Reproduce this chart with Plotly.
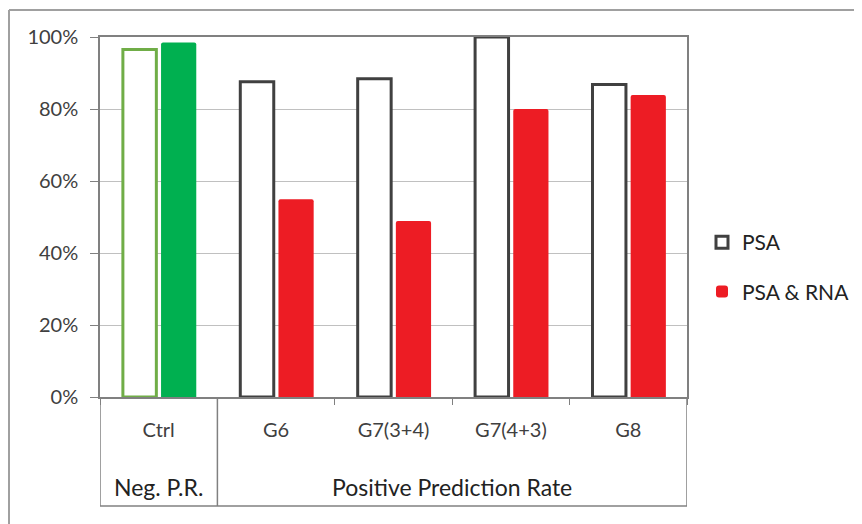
import plotly.graph_objects as go

# ---- data ----
categories = ["Ctrl", "G6", "G7(3+4)", "G7(4+3)", "G8"]
groups = ["Neg. P.R.", "Positive Prediction Rate"]
psa_values = [0.965, 0.876, 0.884, 1.00, 0.868]
psa_rna_values = [0.985, 0.549, 0.489, 0.80, 0.839]
y_ticks = [0, 0.2, 0.4, 0.6, 0.8, 1.0]
y_tick_labels = ["0%", "20%", "40%", "60%", "80%", "100%"]

# ---- layout geometry (page pixels; page body has an 8px margin) ----
OFF = 8
PAGE_W, PAGE_H = 862, 524
W, H = PAGE_W - OFF, PAGE_H - OFF
PL, PR, PT, PB = 100, 687, 37, 397          # plot area in page pixels
L, R, T, B = PL - OFF, PAGE_W - PR, PT - OFF, PAGE_H - PB
PW, PH = PR - PL, PB - PT

def px_x(px):
    return (px - PL) / PW

def px_y(py):
    return (PB - py) / PH

FONT = "Lato"
DARK = "#404040"
GREEN_LINE = "#70AD47"
GREEN_FILL = "#00B050"
RED = "#ED1C24"
BOX = "#808080"

fig = go.Figure()

# Ctrl bars (negative prediction rate)
fig.add_trace(go.Bar(
    x=categories[:1], y=psa_values[:1], offset=-0.305, width=0.285,
    marker=dict(color="white", line=dict(color=GREEN_LINE, width=3)),
    showlegend=False, hoverinfo="y"))
fig.add_trace(go.Bar(
    x=categories[:1], y=psa_rna_values[:1], offset=0.02, width=0.30,
    marker=dict(color=GREEN_FILL, line=dict(width=0), cornerradius=2),
    showlegend=False, hoverinfo="y"))
# Positive prediction rate bars
fig.add_trace(go.Bar(
    x=categories[1:], y=psa_values[1:], offset=-0.305, width=0.285,
    name="PSA", legendgroup="a",
    marker=dict(color="white", line=dict(color=DARK, width=3))))
fig.add_trace(go.Bar(
    x=categories[1:], y=psa_rna_values[1:], offset=0.02, width=0.30,
    name="PSA & RNA", legendgroup="b",
    marker=dict(color=RED, line=dict(width=0), cornerradius=2)))

shapes = []
# outer chart border (top and left visible)
shapes.append(dict(type="line", xref="paper", yref="paper",
                   x0=px_x(9), x1=px_x(PAGE_W + 5), y0=px_y(10), y1=px_y(10),
                   line=dict(color="#a0a0a0", width=2)))
shapes.append(dict(type="line", xref="paper", yref="paper",
                   x0=px_x(9), x1=px_x(9), y0=px_y(10), y1=px_y(PAGE_H + 5),
                   line=dict(color="#a0a0a0", width=2)))
# category table dividers
y_bot = px_y(506)
for xb in [-0.5, 0.5, 4.5]:
    shapes.append(dict(type="line", xref="x", yref="paper",
                       x0=xb, x1=xb, y0=0, y1=y_bot,
                       line=dict(color=BOX, width=1.5)))
shapes.append(dict(type="line", xref="x", yref="paper",
                   x0=-0.5, x1=4.5, y0=y_bot, y1=y_bot,
                   line=dict(color=BOX, width=1.5)))

annotations = [
    dict(x=0, y=px_y(487), xref="x", yref="paper", text=groups[0],
         yanchor="middle", xanchor="center", showarrow=False,
         font=dict(family=FONT, size=23, color="#222222")),
    dict(x=2.5, y=px_y(487), xref="x", yref="paper", text=groups[1],
         yanchor="middle", xanchor="center", showarrow=False,
         font=dict(family=FONT, size=23, color="#222222")),
]

fig.update_layout(
    width=W, height=H,
    margin=dict(l=L, r=R, t=T, b=B, autoexpand=False),
    paper_bgcolor="white", plot_bgcolor="white",
    barmode="overlay",
    font=dict(family=FONT, color=DARK),
    shapes=shapes, annotations=annotations,
    legend=dict(x=px_x(702), y=px_y(267), xanchor="left", yanchor="middle",
                font=dict(family=FONT, size=21, color="#222222"),
                tracegroupgap=19, itemwidth=30, bgcolor="rgba(0,0,0,0)"),
    xaxis=dict(
        type="category", categoryorder="array", categoryarray=categories,
        range=[-0.5, 4.5], showgrid=False, automargin=False,
        tickson="boundaries", ticks="outside", ticklen=6, tickcolor=BOX,
        showline=True, linecolor=BOX, linewidth=1.5, mirror=True,
        tickfont=dict(family=FONT, size=20, color=DARK),
        ticklabelstandoff=14,
    ),
    yaxis=dict(
        range=[0, 1], tickvals=y_ticks, ticktext=y_tick_labels,
        showgrid=True, gridcolor="#c0c0c0", gridwidth=1, automargin=False,
        ticks="outside", ticklen=8, tickcolor=BOX,
        showline=True, linecolor=BOX, linewidth=1.5, mirror=True,
        tickfont=dict(family=FONT, size=20, color=DARK),
        ticklabelstandoff=8, zeroline=False,
    ),
)

fig.write_html("out.html")
